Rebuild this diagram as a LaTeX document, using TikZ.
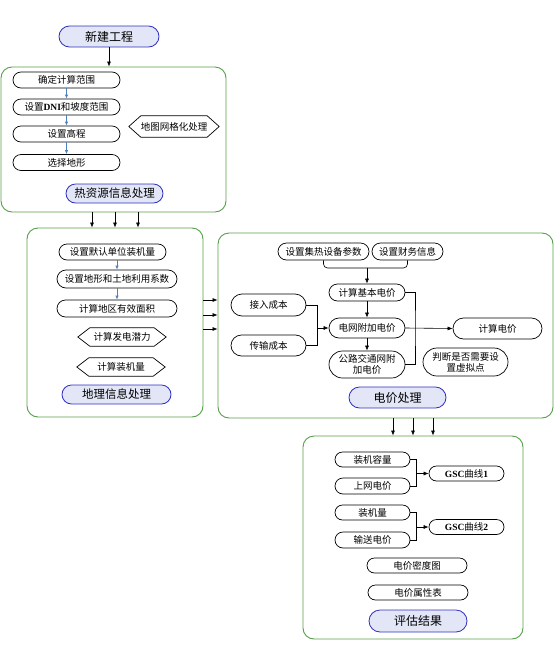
\documentclass[tikz,border=0pt]{standalone}
\usepackage{fontspec}
\setmainfont{Liberation Serif}
\newfontfamily\cjk{Noto Sans CJK SC}
\usetikzlibrary{shapes.misc,arrows.meta,calc}
\definecolor{grp}{RGB}{84,160,72}
\definecolor{tfill}{RGB}{226,230,246}
\definecolor{tdraw}{RGB}{48,48,190}
\definecolor{barrow}{RGB}{79,129,189}
\begin{document}
\begin{tikzpicture}[x=1pt,y=-1pt,
 box/.style={draw=black,line width=0.7pt,rounded rectangle,inner sep=0pt,font=\cjk\fontsize{9.5}{11.5}\selectfont,align=center},
 ttl/.style={draw=tdraw,fill=tfill,line width=0.8pt,rounded rectangle,inner sep=0pt,font=\cjk\fontsize{12}{14}\selectfont},
 hexa/.style={rectangle,inner sep=0pt,font=\cjk\fontsize{9.5}{11.5}\selectfont},
 grpbox/.style={draw=grp,line width=0.9pt,rounded corners=11pt,rectangle,inner sep=0pt},
 arr/.style={-{Latex[length=5pt,width=4pt]},line width=0.6pt},
 barr/.style={-{Latex[length=4pt,width=3.5pt]},draw=barrow,line width=0.7pt},
 ln/.style={line width=0.6pt},
 hexline/.style={draw=black,line width=0.7pt}]
\useasboundingbox (0,0) rectangle (560,646);

% groups
\node[grpbox,minimum width=225,minimum height=145] (g1) at (113.5,139.5) {};
\node[grpbox,minimum width=176,minimum height=189] (g2) at (115,322.5) {};
\node[grpbox,minimum width=335,minimum height=185] (g3) at (385.5,325.5) {};
\node[grpbox,minimum width=220,minimum height=203] (g4) at (413,537.5) {};

% top
\node[ttl,minimum width=100,minimum height=21] (xj) at (109,36.5) {新建工程};
\draw[arr] (xj.south) -- (xj.south |- g1.north);

% group 1
\node[box,minimum width=107,minimum height=16] (a1) at (66.5,80) {确定计算范围};
\node[box,minimum width=107,minimum height=16] (a2) at (66.5,107) {设置{\rmfamily\bfseries DNI}和坡度范围};
\node[box,minimum width=107,minimum height=16] (a3) at (66.5,134) {设置高程};
\node[box,minimum width=107,minimum height=16] (a4) at (66.5,162.5) {选择地形};
\node[hexa,minimum width=90,minimum height=21] (a5) at (174,126.5) {地图网格化处理};
\node[ttl,minimum width=97,minimum height=19,font=\cjk\fontsize{11.5}{13}\selectfont] (t1) at (114.5,193.5) {热资源信息处理};
\draw[barr] (a1.south) -- (a2.north);
\draw[barr] (a2.south) -- (a3.north);
\draw[barr] (a3.south) -- (a4.north);

\foreach \dx in {-21.5,1.5,24.5}
  \draw[arr] ($(g1.south)+(\dx,0)$) -- ($(g1.south |- g2.north)+(\dx,0)$);

% group 2
\node[box,minimum width=107,minimum height=16] (b1) at (112.5,252) {设置默认单位装机量};
\node[box,minimum width=120,minimum height=18] (b2) at (117,279) {设置地形和土地利用系数};
\node[box,minimum width=120,minimum height=17] (b3) at (117,308.5) {计算地区有效面积};
\node[hexa,minimum width=88,minimum height=18] (b4) at (122,337) {计算发电潜力};
\node[hexa,minimum width=88,minimum height=18] (b5) at (121,367) {计算装机量};
\node[ttl,minimum width=109,minimum height=19,font=\cjk\fontsize{11.5}{13}\selectfont] (t2) at (116.5,394.5) {地理信息处理};
\draw[barr] (b2.north |- b1.south) -- (b2.north);
\draw[barr] (b2.south) -- (b3.north);

\foreach \h in {a5,b4,b5}
  \draw[hexline] (\h.west) -- ($(\h.north west)+(12,0)$) -- ($(\h.north east)+(-12,0)$) -- (\h.east)
    -- ($(\h.south east)+(-12,0)$) -- ($(\h.south west)+(12,0)$) -- cycle;

\foreach \dy in {-22.5,-7.5,6.5}
  \draw[arr] ($(g2.east)+(0,\dy)$) -- ($(g2.east -| g3.west)+(0,\dy)$);

% group 3
\node[box,minimum width=91,minimum height=17] (c1) at (323.5,251.5) {设置集热设备参数};
\node[box,minimum width=71,minimum height=17] (c2) at (407.5,251.5) {设置财务信息};
\node[box,minimum width=76,minimum height=17] (c3) at (367,292.5) {计算基本电价};
\node[box,minimum width=76,minimum height=20] (c4) at (367,328) {电网附加电价};
\node[box,minimum width=76,minimum height=27,font=\cjk\fontsize{9.5}{11}\selectfont] (c5) at (367,364.5) {公路交通网附\\加电价};
\node[box,minimum width=75,minimum height=22] (c6) at (268.5,305) {接入成本};
\node[box,minimum width=75,minimum height=21] (c7) at (268.5,345.5) {传输成本};
\node[box,minimum width=89,minimum height=21] (c8) at (497.5,328.5) {计算电价};
\node[box,minimum width=85,minimum height=28,font=\cjk\fontsize{9.5}{11}\selectfont] (c9) at (465.5,362) {判断是否需要设\\置虚拟点};
\node[ttl,minimum width=97,minimum height=21] (t3) at (397.5,397.5) {电价处理};

\coordinate (m1) at (367,268);
\draw[ln,rounded corners=4pt] (c1.south) |- (m1);
\draw[ln,rounded corners=4pt] (c2.south) |- (m1);
\draw[arr] (m1) -- (c3.north);
\draw[arr] (c3.south) -- (c4.north);
\draw[arr] (c4.south) -- (c5.north);
\coordinate (m2) at ($(c4.west)+(-11,0)$);
\draw[ln] (c6.east) -| (m2);
\draw[ln] (c7.east) -| (m2);
\draw[arr] (m2) -- (c4.west);
\coordinate (m3) at (415,328);
\draw[ln] (c3.east) -| (m3) |- (c5.east);
\draw[arr] (c4.east) -- (c8.west);

\foreach \dx in {7.5,27.5,47.5}
  \draw[arr] ($(g3.south)+(\dx,0)$) -- ($(g4.north -| g3.south)+(\dx,0)$);

% group 4
\node[box,minimum width=75,minimum height=15] (d1) at (372.5,459.5) {装机容量};
\node[box,minimum width=75,minimum height=16] (d2) at (372.5,486) {上网电价};
\node[box,minimum width=75,minimum height=15] (d3) at (466.5,473.5) {{\rmfamily\bfseries GSC}曲线{\rmfamily\bfseries 1}};
\node[box,minimum width=75,minimum height=15] (d4) at (372.5,512.5) {装机量};
\node[box,minimum width=75,minimum height=16] (d5) at (372.5,540) {输送电价};
\node[box,minimum width=75,minimum height=15] (d6) at (466.5,527) {{\rmfamily\bfseries GSC}曲线{\rmfamily\bfseries 2}};
\node[box,minimum width=100,minimum height=15] (d7) at (417,565.5) {电价密度图};
\node[box,minimum width=100,minimum height=15] (d8) at (418,592.5) {电价属性表};
\node[ttl,minimum width=98,minimum height=22] (t4) at (418,621) {评估结果};

\coordinate (k1) at ($(d3.west)+(-12,0)$);
\draw[ln] (d1.east) -| (k1);
\draw[ln] (d2.east) -| (k1);
\draw[arr] (k1) -- (d3.west);
\coordinate (k2) at ($(d6.west)+(-12,0)$);
\draw[ln] (d4.east) -| (k2);
\draw[ln] (d5.east) -| (k2);
\draw[arr] (k2) -- (d6.west);
\end{tikzpicture}
\end{document}
